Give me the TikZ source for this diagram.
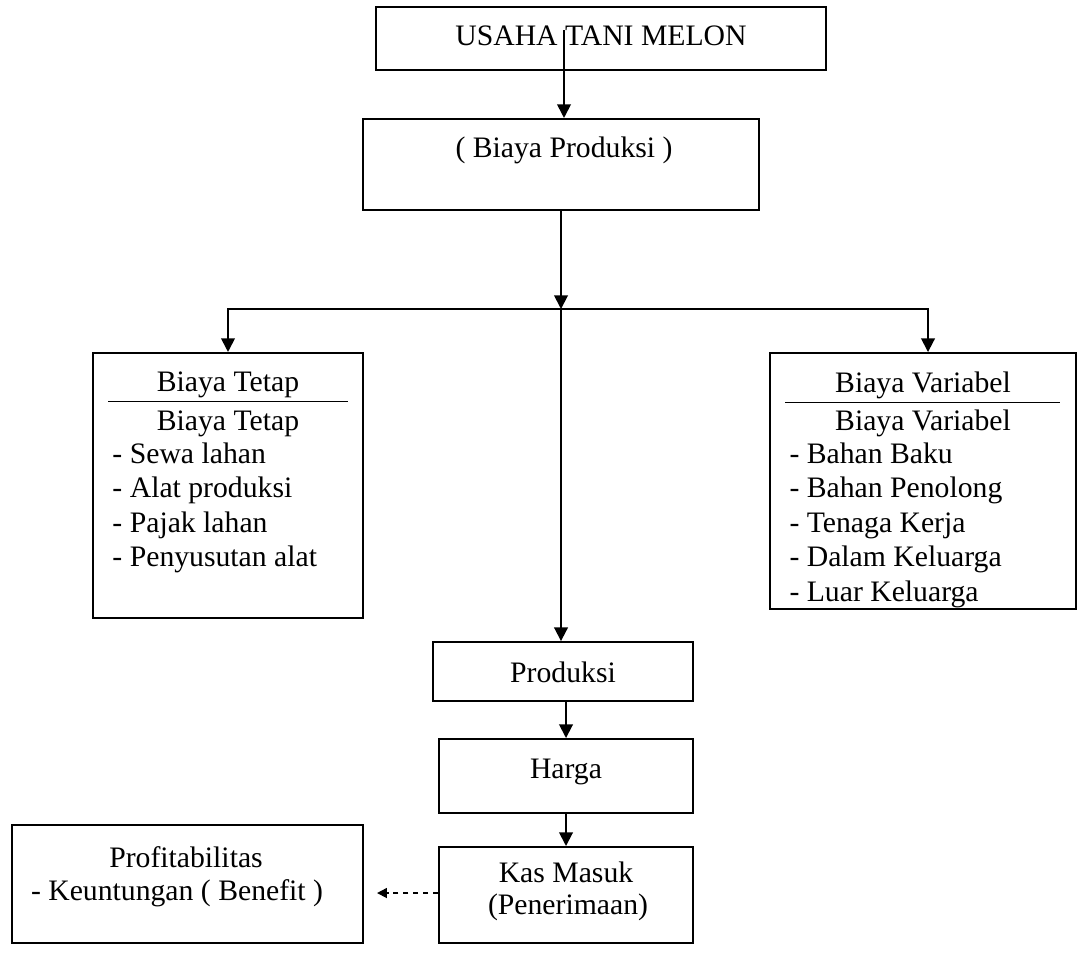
\documentclass[tikz,border=0pt]{standalone}
\usepackage{fontspec}
\setmainfont{Liberation Serif}
\usepackage{tikz}
\usetikzlibrary{arrows.meta}

\begin{document}
\begin{tikzpicture}[x=0.404pt,y=-0.404pt,
  box/.style={draw=black, line width=0.8pt, inner sep=0pt},
  txt/.style={font=\fontsize{12}{13.9}\selectfont, inner sep=0pt},
  arr/.style={line width=0.75pt, -{Triangle[length=5.5pt,width=5.5pt]}},
  dasharr/.style={line width=0.7pt, dash pattern=on 2pt off 2pt, -{Triangle[length=4pt,width=4pt]}}]
\tikzstyle{every node}+=[inner sep=0pt]
\useasboundingbox (0,0) rectangle (1079,956);
% boxes
\node[box, minimum width=181.8pt, minimum height=25.5pt] (usaha) at (601,38.5) {};
\node[box, minimum width=160pt, minimum height=36.8pt] (biaya) at (561,164.5) {};
\node[box, minimum width=109.1pt, minimum height=107.1pt] (tetap) at (228,485.5) {};
\node[box, minimum width=123.6pt, minimum height=103.4pt] (variabel) at (923,481) {};
\node[box, minimum width=105pt, minimum height=23.8pt] (produksi) at (563,671.5) {};
\node[box, minimum width=102.6pt, minimum height=29.9pt] (harga) at (566,776) {};
\node[box, minimum width=102.6pt, minimum height=38.8pt] (kas) at (566,895) {};
\node[box, minimum width=141.8pt, minimum height=47.7pt] (profit) at (187.5,884) {};
% texts
\node[txt, anchor=base] (usahaT) at (601,45) {USAHA TANI MELON};
\node[txt, anchor=base] (biayaT) at (564,157) {( Biaya Produksi )};
\node[txt, anchor=base] (tetapT) at (228,391) {Biaya Tetap};
\node[txt, anchor=base] (tetapT2) at (228,430) {Biaya Tetap};
\draw[line width=0.4pt] (108,401) -- (348,401);
\foreach \t [count=\i] in {Sewa lahan, Alat produksi, Pajak lahan, Penyusutan alat}
  \node[txt, anchor=base west] (tetap\i) at (112,428.5+34.5*\i) {- \t};
\node[txt, anchor=base] (variabelT) at (923,392) {Biaya Variabel};
\node[txt, anchor=base] (variabelT2) at (923,430) {Biaya Variabel};
\draw[line width=0.4pt] (785,402) -- (1060,402);
\foreach \t [count=\i] in {Bahan Baku, Bahan Penolong, Tenaga Kerja, Dalam Keluarga, Luar Keluarga}
  \node[txt, anchor=base west] (variabel\i) at (789,428.5+34.5*\i) {- \t};
\node[txt, anchor=base] (produksiT) at (563,682) {Produksi};
\node[txt, anchor=base] (hargaT) at (566,778) {Harga};
\node[txt, anchor=base] (kasT) at (566,882) {Kas Masuk};
\node[txt, anchor=base] (kasT2) at (568,914) {(Penerimaan)};
\node[txt, anchor=base] (profitT) at (186,867) {Profitabilitas};
\node[txt, anchor=base] (profitT2) at (177,900) {- Keuntungan ( Benefit )};
% connectors
\coordinate (usahaStart) at (564,30);
\coordinate (junction) at (561,309);
\coordinate (varTop) at (928,309);
\coordinate (profitTip) at (377,893);
\draw[arr] (usahaStart) -- (usahaStart |- biaya.north);
\draw[arr] (biaya.south) -- (junction);
\draw[arr] (junction) -| (tetap.north);
\draw[arr] (junction) -- (varTop) -- (varTop |- variabel.north);
\draw[arr] (junction) -- (junction |- produksi.north);
\draw[arr] (produksi.south -| harga.north) -- (harga.north);
\draw[arr] (harga.south) -- (kas.north);
\draw[dasharr] (kas.west |- profitTip) -- (profitTip);
\end{tikzpicture}
\end{document}
